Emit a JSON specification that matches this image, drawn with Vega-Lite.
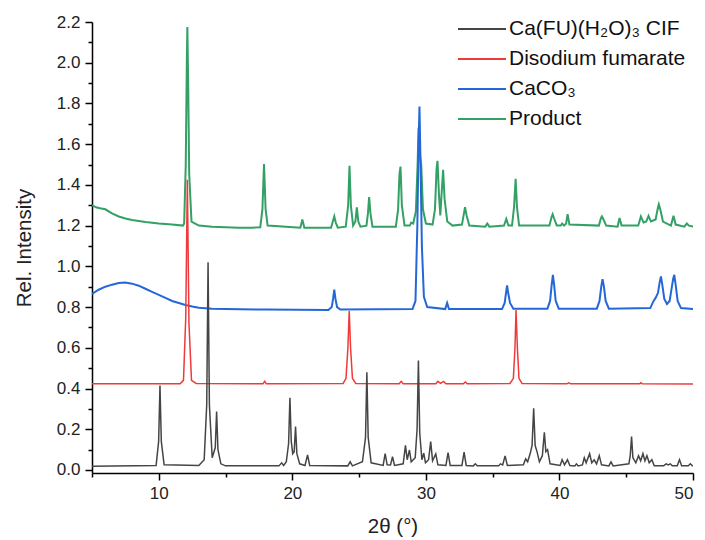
{
"$schema": "https://vega.github.io/schema/vega-lite/v6.json",
"width": 601, "height": 451,
"autosize": {"type": "none"},
"padding": {"left": 92, "top": 22, "right": 12, "bottom": 67},
"config": {
  "view": {"stroke": null},
  "font": "Liberation Sans",
  "axis": {"grid": false, "domainColor": "#000", "domainWidth": 1.5, "tickColor": "#000", "tickWidth": 1.5,
    "labelFont": "Liberation Sans", "labelFontSize": 17, "labelColor": "#222",
    "titleFont": "Liberation Sans", "titleFontSize": 20.5, "titleFontWeight": "normal", "titleColor": "#222"},
  "legend": {"labelFont": "Liberation Sans", "labelFontSize": 21, "labelColor": "#111", "labelLimit": 0}
},
"datasets": {
"prod": [
{"s":"prod","x":5,"y":1.3},{"s":"prod","x":5.3,"y":1.29},{"s":"prod","x":5.6,"y":1.285},{"s":"prod","x":6,"y":1.28},{"s":"prod","x":6.5,"y":1.26},{"s":"prod","x":7,"y":1.245},{"s":"prod","x":7.5,"y":1.235},{"s":"prod","x":8,"y":1.228},{"s":"prod","x":9,"y":1.218},{"s":"prod","x":10,"y":1.21},{"s":"prod","x":11,"y":1.205},{"s":"prod","x":11.8,"y":1.2},
{"s":"prod","x":11.9,"y":1.21},{"s":"prod","x":12.02,"y":1.5},{"s":"prod","x":12.1,"y":2.0},{"s":"prod","x":12.14,"y":2.175},{"s":"prod","x":12.2,"y":1.9},{"s":"prod","x":12.28,"y":1.45},{"s":"prod","x":12.45,"y":1.22},
{"s":"prod","x":13,"y":1.2},{"s":"prod","x":14,"y":1.195},{"s":"prod","x":15,"y":1.192},{"s":"prod","x":16,"y":1.19},{"s":"prod","x":17,"y":1.19},
{"s":"prod","x":17.6,"y":1.192},{"s":"prod","x":17.76,"y":1.28},{"s":"prod","x":17.88,"y":1.502},{"s":"prod","x":18.0,"y":1.28},{"s":"prod","x":18.15,"y":1.2},
{"s":"prod","x":20.6,"y":1.19},{"s":"prod","x":20.75,"y":1.23},{"s":"prod","x":20.9,"y":1.19},
{"s":"prod","x":22.9,"y":1.19},{"s":"prod","x":23.05,"y":1.225},{"s":"prod","x":23.14,"y":1.245},{"s":"prod","x":23.25,"y":1.215},{"s":"prod","x":23.4,"y":1.19},
{"s":"prod","x":24.0,"y":1.195},{"s":"prod","x":24.18,"y":1.3},{"s":"prod","x":24.28,"y":1.494},{"s":"prod","x":24.38,"y":1.3},{"s":"prod","x":24.55,"y":1.2},
{"s":"prod","x":24.72,"y":1.22},{"s":"prod","x":24.83,"y":1.29},{"s":"prod","x":24.94,"y":1.22},{"s":"prod","x":25.1,"y":1.195},
{"s":"prod","x":25.55,"y":1.2},{"s":"prod","x":25.66,"y":1.26},{"s":"prod","x":25.75,"y":1.34},{"s":"prod","x":25.85,"y":1.26},{"s":"prod","x":26.0,"y":1.195},
{"s":"prod","x":27.75,"y":1.195},{"s":"prod","x":27.92,"y":1.28},{"s":"prod","x":28.02,"y":1.45},{"s":"prod","x":28.1,"y":1.49},{"s":"prod","x":28.2,"y":1.3},{"s":"prod","x":28.4,"y":1.2},
{"s":"prod","x":28.8,"y":1.2},{"s":"prod","x":28.9,"y":1.215},{"s":"prod","x":29.05,"y":1.21},{"s":"prod","x":29.25,"y":1.27},{"s":"prod","x":29.38,"y":1.5},{"s":"prod","x":29.45,"y":1.68},{"s":"prod","x":29.55,"y":1.55},{"s":"prod","x":29.65,"y":1.5},{"s":"prod","x":29.78,"y":1.28},{"s":"prod","x":30.0,"y":1.21},
{"s":"prod","x":30.5,"y":1.205},{"s":"prod","x":30.68,"y":1.28},{"s":"prod","x":30.8,"y":1.48},{"s":"prod","x":30.87,"y":1.518},{"s":"prod","x":30.98,"y":1.35},{"s":"prod","x":31.08,"y":1.25},{"s":"prod","x":31.18,"y":1.36},{"s":"prod","x":31.29,"y":1.474},{"s":"prod","x":31.4,"y":1.33},{"s":"prod","x":31.6,"y":1.22},{"s":"prod","x":32.0,"y":1.2},
{"s":"prod","x":32.7,"y":1.205},{"s":"prod","x":32.85,"y":1.26},{"s":"prod","x":32.93,"y":1.29},{"s":"prod","x":33.05,"y":1.25},{"s":"prod","x":33.25,"y":1.2},
{"s":"prod","x":34.45,"y":1.195},{"s":"prod","x":34.6,"y":1.21},{"s":"prod","x":34.75,"y":1.195},
{"s":"prod","x":35.85,"y":1.2},{"s":"prod","x":36.02,"y":1.233},{"s":"prod","x":36.18,"y":1.2},
{"s":"prod","x":36.45,"y":1.2},{"s":"prod","x":36.6,"y":1.29},{"s":"prod","x":36.72,"y":1.43},{"s":"prod","x":36.82,"y":1.29},{"s":"prod","x":36.98,"y":1.2},
{"s":"prod","x":39.25,"y":1.2},{"s":"prod","x":39.4,"y":1.24},{"s":"prod","x":39.49,"y":1.256},{"s":"prod","x":39.6,"y":1.235},{"s":"prod","x":39.8,"y":1.2},
{"s":"prod","x":40.1,"y":1.2},{"s":"prod","x":40.2,"y":1.21},{"s":"prod","x":40.35,"y":1.2},{"s":"prod","x":40.5,"y":1.21},{"s":"prod","x":40.61,"y":1.256},{"s":"prod","x":40.75,"y":1.205},
{"s":"prod","x":42.95,"y":1.2},{"s":"prod","x":43.1,"y":1.235},{"s":"prod","x":43.18,"y":1.245},{"s":"prod","x":43.3,"y":1.23},{"s":"prod","x":43.5,"y":1.2},
{"s":"prod","x":44.35,"y":1.195},{"s":"prod","x":44.5,"y":1.237},{"s":"prod","x":44.65,"y":1.2},
{"s":"prod","x":45.9,"y":1.2},{"s":"prod","x":46.1,"y":1.245},{"s":"prod","x":46.3,"y":1.215},{"s":"prod","x":46.5,"y":1.22},{"s":"prod","x":46.67,"y":1.248},{"s":"prod","x":46.85,"y":1.22},
{"s":"prod","x":47.2,"y":1.23},{"s":"prod","x":47.38,"y":1.29},{"s":"prod","x":47.44,"y":1.305},{"s":"prod","x":47.55,"y":1.28},{"s":"prod","x":47.75,"y":1.22},
{"s":"prod","x":48.35,"y":1.2},{"s":"prod","x":48.54,"y":1.248},{"s":"prod","x":48.7,"y":1.205},
{"s":"prod","x":49.35,"y":1.195},{"s":"prod","x":49.54,"y":1.21},{"s":"prod","x":49.7,"y":1.2},{"s":"prod","x":50,"y":1.195}
],
"caco3": [
{"s":"caco3","x":5,"y":0.865},{"s":"caco3","x":5.5,"y":0.885},{"s":"caco3","x":6,"y":0.9},{"s":"caco3","x":6.5,"y":0.91},{"s":"caco3","x":7,"y":0.918},{"s":"caco3","x":7.5,"y":0.92},{"s":"caco3","x":8,"y":0.915},{"s":"caco3","x":8.5,"y":0.905},{"s":"caco3","x":9,"y":0.89},{"s":"caco3","x":9.5,"y":0.875},{"s":"caco3","x":10,"y":0.86},{"s":"caco3","x":10.5,"y":0.845},{"s":"caco3","x":11,"y":0.83},{"s":"caco3","x":11.5,"y":0.82},{"s":"caco3","x":12,"y":0.81},{"s":"caco3","x":12.5,"y":0.803},{"s":"caco3","x":13,"y":0.797},{"s":"caco3","x":14,"y":0.792},{"s":"caco3","x":15,"y":0.79},{"s":"caco3","x":18,"y":0.788},
{"s":"caco3","x":22.7,"y":0.786},{"s":"caco3","x":22.95,"y":0.8},{"s":"caco3","x":23.05,"y":0.84},{"s":"caco3","x":23.14,"y":0.885},{"s":"caco3","x":23.23,"y":0.84},{"s":"caco3","x":23.35,"y":0.8},{"s":"caco3","x":23.6,"y":0.788},
{"s":"caco3","x":29.0,"y":0.79},{"s":"caco3","x":29.22,"y":0.83},{"s":"caco3","x":29.36,"y":1.2},{"s":"caco3","x":29.45,"y":1.6},{"s":"caco3","x":29.52,"y":1.785},{"s":"caco3","x":29.6,"y":1.5},{"s":"caco3","x":29.7,"y":1.1},{"s":"caco3","x":29.85,"y":0.85},{"s":"caco3","x":30.1,"y":0.8},
{"s":"caco3","x":31.45,"y":0.79},{"s":"caco3","x":31.59,"y":0.82},{"s":"caco3","x":31.73,"y":0.79},
{"s":"caco3","x":35.7,"y":0.79},{"s":"caco3","x":35.9,"y":0.82},{"s":"caco3","x":36.0,"y":0.87},{"s":"caco3","x":36.08,"y":0.906},{"s":"caco3","x":36.16,"y":0.87},{"s":"caco3","x":36.3,"y":0.82},{"s":"caco3","x":36.55,"y":0.792},
{"s":"caco3","x":39.1,"y":0.792},{"s":"caco3","x":39.3,"y":0.83},{"s":"caco3","x":39.42,"y":0.91},{"s":"caco3","x":39.51,"y":0.958},{"s":"caco3","x":39.6,"y":0.91},{"s":"caco3","x":39.72,"y":0.83},{"s":"caco3","x":39.95,"y":0.792},
{"s":"caco3","x":42.8,"y":0.792},{"s":"caco3","x":43.0,"y":0.83},{"s":"caco3","x":43.13,"y":0.9},{"s":"caco3","x":43.23,"y":0.937},{"s":"caco3","x":43.33,"y":0.9},{"s":"caco3","x":43.46,"y":0.83},{"s":"caco3","x":43.7,"y":0.792},
{"s":"caco3","x":46.8,"y":0.795},{"s":"caco3","x":47.05,"y":0.83},{"s":"caco3","x":47.2,"y":0.845},{"s":"caco3","x":47.38,"y":0.87},{"s":"caco3","x":47.5,"y":0.92},{"s":"caco3","x":47.6,"y":0.95},{"s":"caco3","x":47.7,"y":0.91},{"s":"caco3","x":47.85,"y":0.84},{"s":"caco3","x":48.05,"y":0.815},{"s":"caco3","x":48.25,"y":0.83},{"s":"caco3","x":48.42,"y":0.9},{"s":"caco3","x":48.52,"y":0.94},{"s":"caco3","x":48.6,"y":0.958},{"s":"caco3","x":48.7,"y":0.91},{"s":"caco3","x":48.85,"y":0.83},{"s":"caco3","x":49.1,"y":0.795},{"s":"caco3","x":50,"y":0.79}
],
"na": [
{"s":"na","x":5,"y":0.423},{"s":"na","x":11.6,"y":0.423},{"s":"na","x":11.85,"y":0.44},{"s":"na","x":12.02,"y":0.75},{"s":"na","x":12.14,"y":1.425},{"s":"na","x":12.26,"y":0.72},{"s":"na","x":12.45,"y":0.44},{"s":"na","x":12.8,"y":0.425},
{"s":"na","x":17.8,"y":0.423},{"s":"na","x":17.93,"y":0.435},{"s":"na","x":18.06,"y":0.423},
{"s":"na","x":23.8,"y":0.425},{"s":"na","x":24.02,"y":0.45},{"s":"na","x":24.16,"y":0.6},{"s":"na","x":24.26,"y":0.78},{"s":"na","x":24.36,"y":0.6},{"s":"na","x":24.5,"y":0.45},{"s":"na","x":24.75,"y":0.425},
{"s":"na","x":28.0,"y":0.423},{"s":"na","x":28.15,"y":0.435},{"s":"na","x":28.3,"y":0.423},
{"s":"na","x":30.75,"y":0.423},{"s":"na","x":30.9,"y":0.435},{"s":"na","x":31.1,"y":0.425},{"s":"na","x":31.33,"y":0.435},{"s":"na","x":31.5,"y":0.423},
{"s":"na","x":32.8,"y":0.423},{"s":"na","x":32.96,"y":0.432},{"s":"na","x":33.1,"y":0.423},
{"s":"na","x":36.3,"y":0.425},{"s":"na","x":36.55,"y":0.45},{"s":"na","x":36.67,"y":0.6},{"s":"na","x":36.75,"y":0.785},{"s":"na","x":36.85,"y":0.6},{"s":"na","x":36.97,"y":0.45},{"s":"na","x":37.2,"y":0.425},
{"s":"na","x":40.55,"y":0.423},{"s":"na","x":40.7,"y":0.428},{"s":"na","x":40.85,"y":0.423},
{"s":"na","x":46.0,"y":0.423},{"s":"na","x":46.1,"y":0.428},{"s":"na","x":46.2,"y":0.423},{"s":"na","x":50,"y":0.422}
],
"cif": [
{"s":"cif","x":5,"y":0.018},{"s":"cif","x":9.8,"y":0.022},{"s":"cif","x":9.99,"y":0.14},{"s":"cif","x":10.09,"y":0.415},{"s":"cif","x":10.19,"y":0.14},{"s":"cif","x":10.4,"y":0.025},
{"s":"cif","x":13.0,"y":0.022},{"s":"cif","x":13.4,"y":0.05},{"s":"cif","x":13.59,"y":0.32},{"s":"cif","x":13.69,"y":1.02},{"s":"cif","x":13.79,"y":0.32},{"s":"cif","x":14.0,"y":0.06},{"s":"cif","x":14.23,"y":0.11},{"s":"cif","x":14.33,"y":0.287},{"s":"cif","x":14.43,"y":0.1},{"s":"cif","x":14.65,"y":0.03},
{"s":"cif","x":15,"y":0.02},{"s":"cif","x":19.0,"y":0.02},{"s":"cif","x":19.2,"y":0.035},{"s":"cif","x":19.35,"y":0.022},{"s":"cif","x":19.55,"y":0.04},{"s":"cif","x":19.72,"y":0.13},{"s":"cif","x":19.82,"y":0.355},{"s":"cif","x":19.92,"y":0.14},{"s":"cif","x":20.03,"y":0.08},{"s":"cif","x":20.14,"y":0.09},{"s":"cif","x":20.24,"y":0.213},{"s":"cif","x":20.34,"y":0.08},{"s":"cif","x":20.55,"y":0.03},
{"s":"cif","x":20.95,"y":0.022},{"s":"cif","x":21.14,"y":0.074},{"s":"cif","x":21.3,"y":0.022},
{"s":"cif","x":24.15,"y":0.02},{"s":"cif","x":24.33,"y":0.04},{"s":"cif","x":24.5,"y":0.02},
{"s":"cif","x":25.25,"y":0.04},{"s":"cif","x":25.48,"y":0.16},{"s":"cif","x":25.58,"y":0.48},{"s":"cif","x":25.68,"y":0.16},{"s":"cif","x":25.9,"y":0.035},
{"s":"cif","x":26.8,"y":0.022},{"s":"cif","x":26.95,"y":0.08},{"s":"cif","x":27.1,"y":0.025},{"s":"cif","x":27.35,"y":0.024},{"s":"cif","x":27.5,"y":0.065},{"s":"cif","x":27.65,"y":0.022},
{"s":"cif","x":28.3,"y":0.03},{"s":"cif","x":28.47,"y":0.121},{"s":"cif","x":28.6,"y":0.05},{"s":"cif","x":28.77,"y":0.098},{"s":"cif","x":28.9,"y":0.04},{"s":"cif","x":29.2,"y":0.06},{"s":"cif","x":29.34,"y":0.2},{"s":"cif","x":29.44,"y":0.537},{"s":"cif","x":29.54,"y":0.18},{"s":"cif","x":29.7,"y":0.05},{"s":"cif","x":29.84,"y":0.082},{"s":"cif","x":29.97,"y":0.035},{"s":"cif","x":30.2,"y":0.05},{"s":"cif","x":30.36,"y":0.139},{"s":"cif","x":30.5,"y":0.045},{"s":"cif","x":30.74,"y":0.079},{"s":"cif","x":30.9,"y":0.025},
{"s":"cif","x":31.5,"y":0.022},{"s":"cif","x":31.66,"y":0.085},{"s":"cif","x":31.82,"y":0.022},
{"s":"cif","x":32.7,"y":0.022},{"s":"cif","x":32.86,"y":0.088},{"s":"cif","x":33.02,"y":0.022},
{"s":"cif","x":33.55,"y":0.02},{"s":"cif","x":33.7,"y":0.03},{"s":"cif","x":33.85,"y":0.02},
{"s":"cif","x":35.45,"y":0.02},{"s":"cif","x":35.58,"y":0.03},{"s":"cif","x":35.75,"y":0.025},{"s":"cif","x":35.93,"y":0.069},{"s":"cif","x":36.1,"y":0.022},
{"s":"cif","x":37.3,"y":0.025},{"s":"cif","x":37.47,"y":0.054},{"s":"cif","x":37.62,"y":0.04},{"s":"cif","x":37.82,"y":0.083},{"s":"cif","x":37.95,"y":0.12},{"s":"cif","x":38.07,"y":0.303},{"s":"cif","x":38.18,"y":0.12},{"s":"cif","x":38.32,"y":0.09},{"s":"cif","x":38.5,"y":0.04},{"s":"cif","x":38.72,"y":0.07},{"s":"cif","x":38.87,"y":0.185},{"s":"cif","x":38.98,"y":0.09},{"s":"cif","x":39.11,"y":0.1},{"s":"cif","x":39.3,"y":0.03},
{"s":"cif","x":40.05,"y":0.022},{"s":"cif","x":40.2,"y":0.05},{"s":"cif","x":40.38,"y":0.025},{"s":"cif","x":40.6,"y":0.05},{"s":"cif","x":40.78,"y":0.022},
{"s":"cif","x":41.15,"y":0.02},{"s":"cif","x":41.27,"y":0.03},{"s":"cif","x":41.4,"y":0.02},{"s":"cif","x":41.72,"y":0.025},{"s":"cif","x":41.86,"y":0.06},{"s":"cif","x":42.0,"y":0.035},{"s":"cif","x":42.26,"y":0.08},{"s":"cif","x":42.42,"y":0.035},{"s":"cif","x":42.6,"y":0.05},{"s":"cif","x":42.78,"y":0.03},{"s":"cif","x":42.98,"y":0.07},{"s":"cif","x":43.15,"y":0.025},
{"s":"cif","x":43.7,"y":0.02},{"s":"cif","x":43.86,"y":0.04},{"s":"cif","x":44.02,"y":0.02},
{"s":"cif","x":45.2,"y":0.03},{"s":"cif","x":45.3,"y":0.07},{"s":"cif","x":45.4,"y":0.164},{"s":"cif","x":45.5,"y":0.06},{"s":"cif","x":45.72,"y":0.035},{"s":"cif","x":45.92,"y":0.07},{"s":"cif","x":46.08,"y":0.045},{"s":"cif","x":46.25,"y":0.08},{"s":"cif","x":46.4,"y":0.045},{"s":"cif","x":46.55,"y":0.07},{"s":"cif","x":46.72,"y":0.035},{"s":"cif","x":46.92,"y":0.05},{"s":"cif","x":47.1,"y":0.02},
{"s":"cif","x":47.8,"y":0.02},{"s":"cif","x":47.99,"y":0.03},{"s":"cif","x":48.15,"y":0.025},{"s":"cif","x":48.3,"y":0.03},{"s":"cif","x":48.45,"y":0.02},
{"s":"cif","x":48.82,"y":0.02},{"s":"cif","x":48.99,"y":0.05},{"s":"cif","x":49.15,"y":0.02},
{"s":"cif","x":49.65,"y":0.02},{"s":"cif","x":49.8,"y":0.03},{"s":"cif","x":49.95,"y":0.02},{"s":"cif","x":50,"y":0.02}
]
},
"encoding": {
  "x": {"field": "x", "type": "quantitative", "scale": {"domain": [5, 50], "nice": false, "zero": false},
    "axis": {"title": "2θ (°)", "values": [5,10,15,20,25,30,35,40,45,50], "format": "d",
      "labelExpr": "datum.value % 10 === 0 ? datum.label : ''",
      "tickSize": {"condition": {"test": "datum.value % 10 === 0", "value": 7}, "value": 4},
      "labelPadding": 5, "titlePadding": 15}},
  "y": {"field": "y", "type": "quantitative", "scale": {"domain": [-0.015, 2.2], "nice": false, "zero": false},
    "axis": {"title": "Rel. Intensity", "values": [0,0.1,0.2,0.3,0.4,0.5,0.6,0.7,0.8,0.9,1.0,1.1,1.2,1.3,1.4,1.5,1.6,1.7,1.8,1.9,2.0,2.1,2.2],
      "labelExpr": "round(datum.value*10) % 2 === 0 ? format(datum.value, '.1f') : ''",
      "tickSize": {"condition": {"test": "round(datum.value*10) % 2 === 0", "value": 7}, "value": 4},
      "labelPadding": 5, "titlePadding": 22}},
  "color": {"field": "s", "type": "nominal",
    "scale": {"domain": ["cif", "na", "caco3", "prod"], "range": ["#454545", "#ee3a3a", "#2468d8", "#33a065"]},
    "legend": {"title": null, "orient": "none", "legendX": 377, "legendY": -6, "symbolType": "M-2,0H2", "symbolSize": 576, "symbolStrokeWidth": 2,
      "labelOffset": 14, "rowPadding": 7, "labelLimit": 0,
      "labelExpr": "{'cif': 'Ca(FU)(H₂O)₃ CIF', 'na': 'Disodium fumarate', 'caco3': 'CaCO₃', 'prod': 'Product'}[datum.label]"}}
},
"layer": [
  {"data": {"name": "prod"}, "mark": {"type": "line", "strokeWidth": 2, "clip": true}},
  {"data": {"name": "caco3"}, "mark": {"type": "line", "strokeWidth": 2, "clip": true}},
  {"data": {"name": "na"}, "mark": {"type": "line", "strokeWidth": 1.5, "clip": true}},
  {"data": {"name": "cif"}, "mark": {"type": "line", "strokeWidth": 1.5, "clip": true}}
]
}
